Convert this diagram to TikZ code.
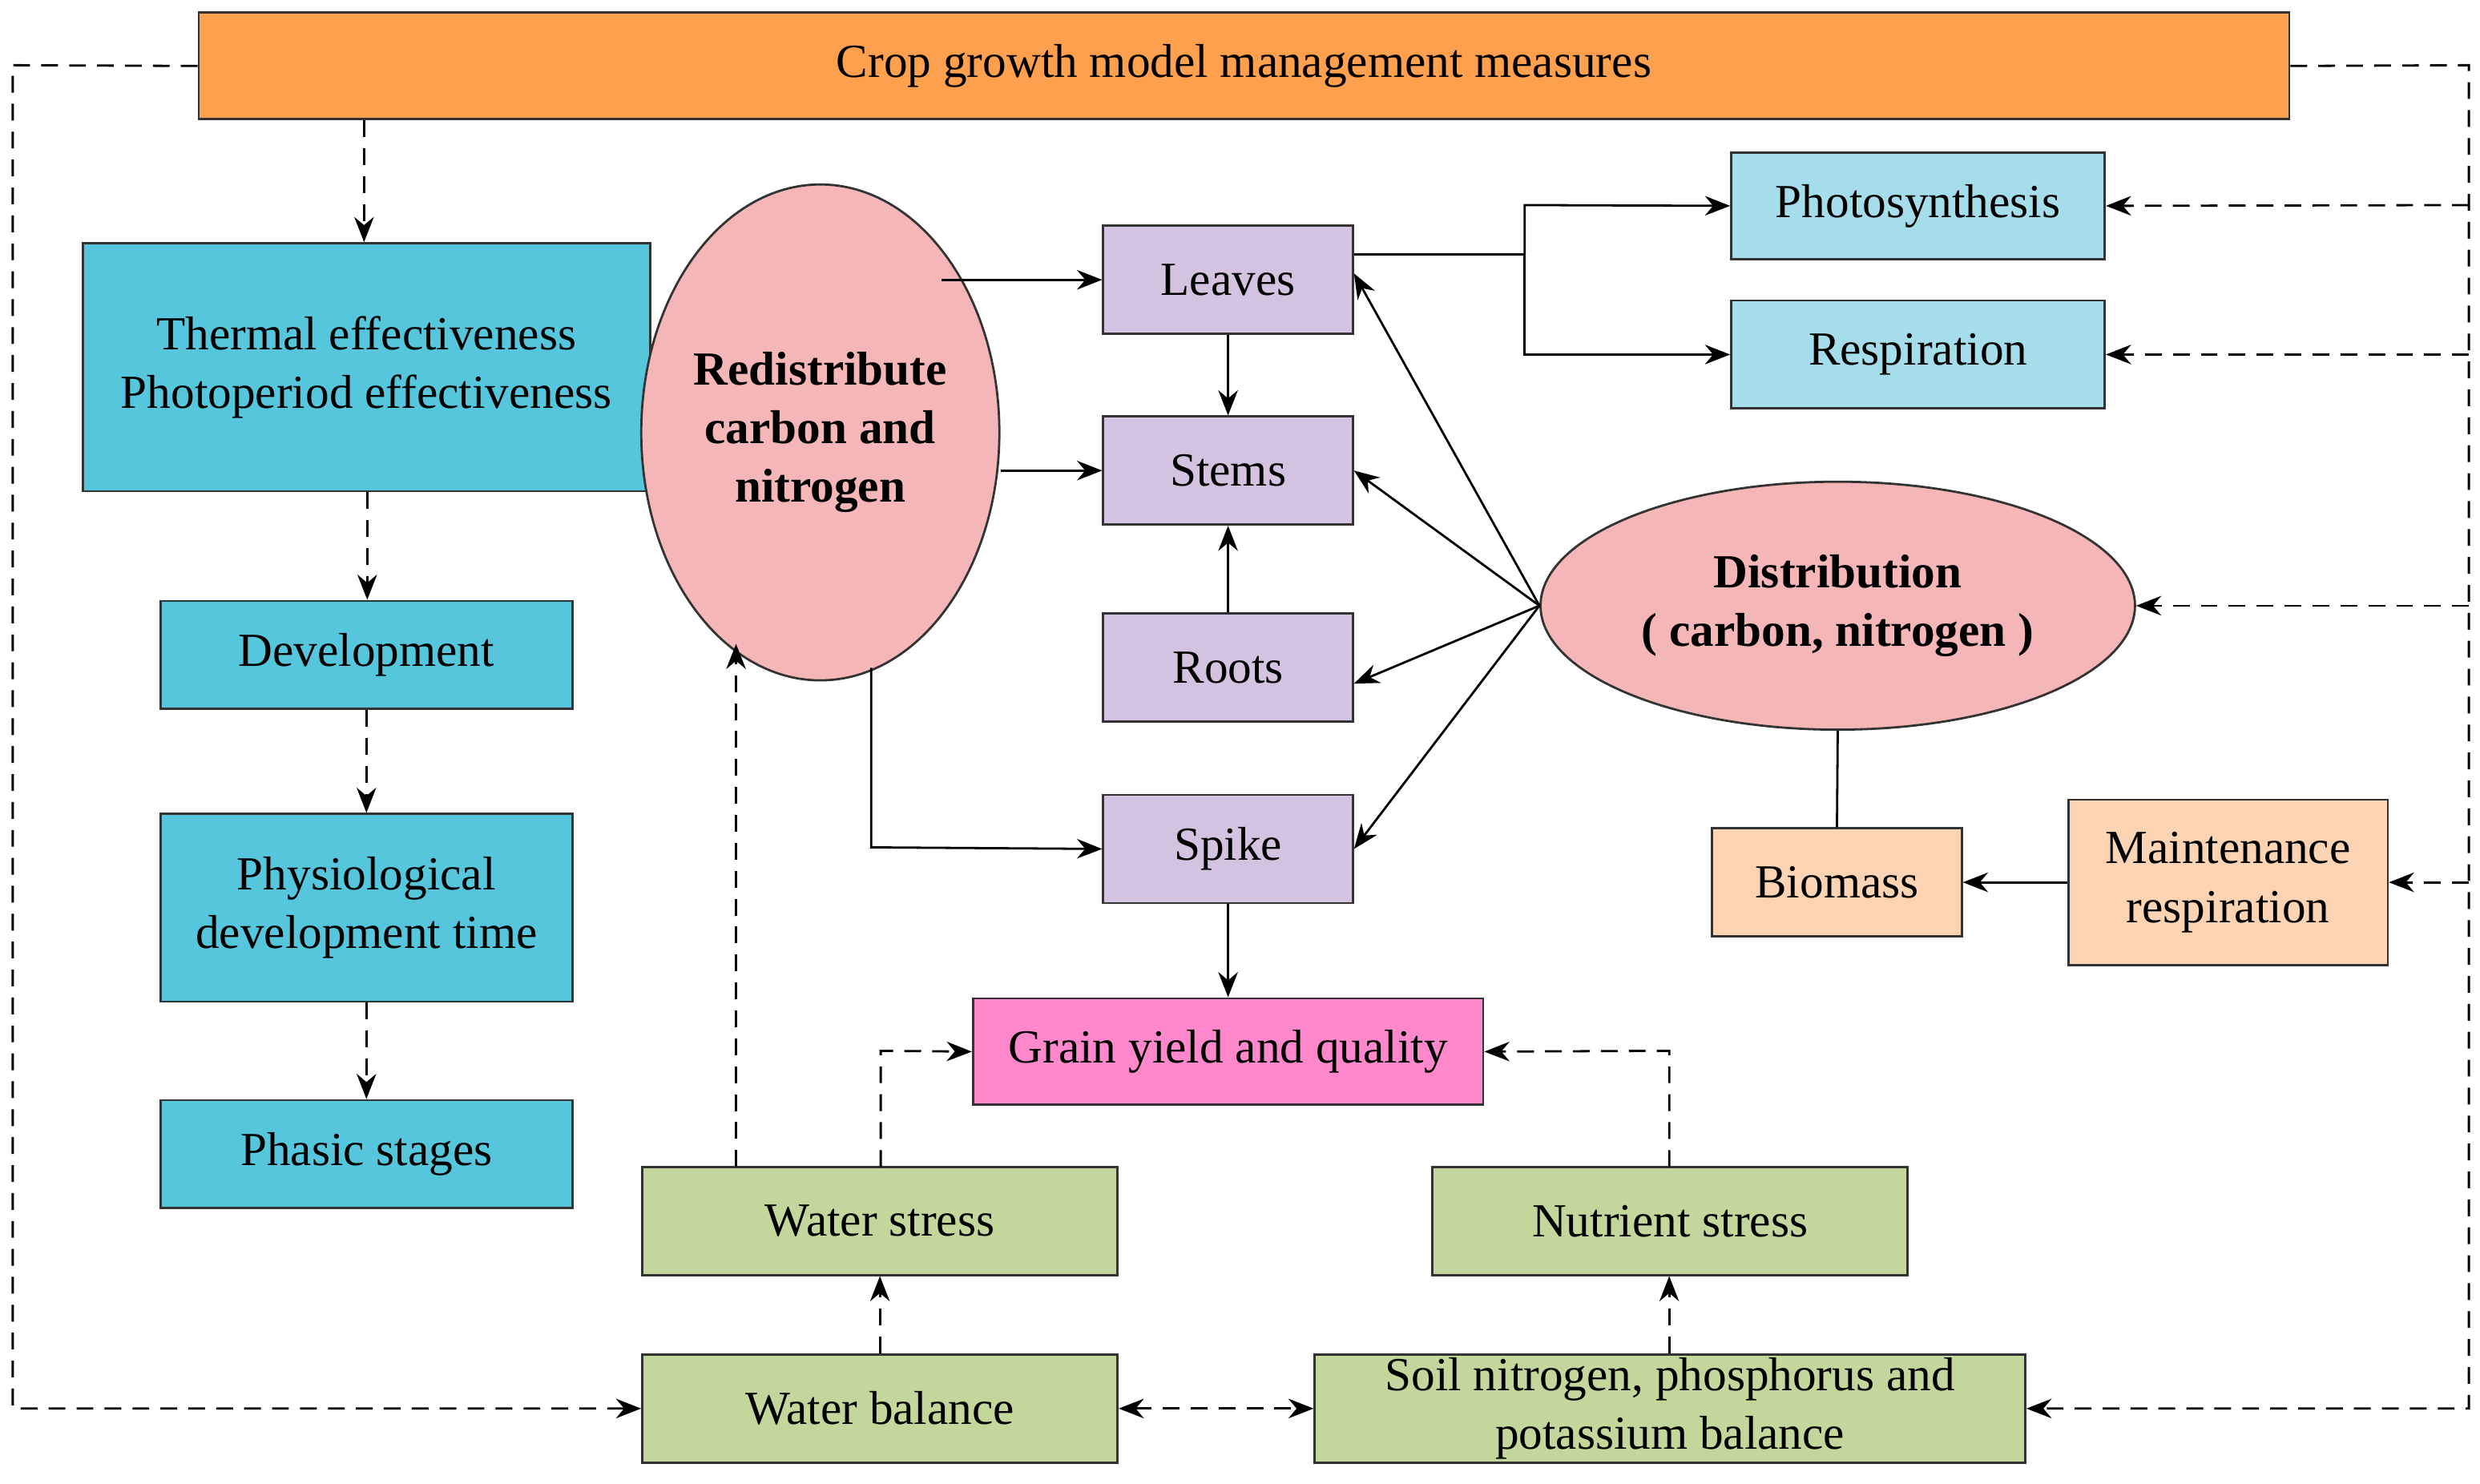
\documentclass[tikz,border=0pt]{standalone}
\usepackage{fontspec}
\setmainfont{Liberation Serif}
\usetikzlibrary{arrows.meta,shapes.geometric}
\definecolor{org}{HTML}{FFA04F}
\definecolor{cy}{HTML}{55C6DC}
\definecolor{lcy}{HTML}{A6DDEB}
\definecolor{pur}{HTML}{D3C3E0}
\definecolor{rd}{HTML}{F4B6B6}
\definecolor{pch}{HTML}{FCD4B3}
\definecolor{pk}{HTML}{FF88CC}
\definecolor{gr}{HTML}{C3D69B}
\begin{document}
\begin{tikzpicture}[x=0.02cm,y=-0.02cm,
  every node/.style={font=\fontsize{17}{21}\selectfont},
  bx/.style={draw=black!80,line width=0.8pt,align=center,inner sep=0pt},
  ar/.style={-{Stealth[length=9pt,width=7pt]},line width=0.8pt},
  da/.style={ar,dashed,dash pattern=on 6pt off 4pt}]
\useasboundingbox (0,0) rectangle (1560,933);
\newcommand{\bxn}[6]{\node[bx,fill=#2,minimum width={(#5-#3)*0.02cm},minimum height={(#6-#4)*0.02cm}] (#1) at ({(#3+#5)/2},{(#4+#6)/2}) {#2x};}
\def\B#1#2#3#4#5#6#7{\node[bx,fill=#2,minimum width={(#5-#3)*0.02cm},minimum height={(#6-#4)*0.02cm}] (#1) at ({(#3+#5)/2},{(#4+#6)/2}) {#7};}
\B{top}{org}{125}{8}{1440}{75}{Crop growth model management measures}
\B{th}{cy}{52}{153}{409}{309}{Thermal effectiveness\\Photoperiod effectiveness}
\B{dev}{cy}{101}{378}{360}{446}{Development}
\B{phy}{cy}{101}{512}{360}{630}{Physiological\\development time}
\B{pha}{cy}{101}{692}{360}{760}{Phasic stages}
\node[bx,ellipse,fill=rd,minimum width=3.8cm,minimum height=6.24cm,font=\fontsize{17}{21}\selectfont\bfseries] (red) at (516,272) {Redistribute\\carbon and\\nitrogen};
\B{lv}{pur}{694}{142}{851}{210}{Leaves}
\B{st}{pur}{694}{262}{851}{330}{Stems}
\B{rt}{pur}{694}{386}{851}{454}{Roots}
\B{sp}{pur}{694}{500}{851}{568}{Spike}
\B{ps}{lcy}{1089}{96}{1324}{163}{Photosynthesis}
\B{rs}{lcy}{1089}{189}{1324}{257}{Respiration}
\node[bx,ellipse,fill=rd,minimum width=7.48cm,minimum height=3.12cm,font=\fontsize{17}{21}\selectfont\bfseries] (dis) at (1156,381) {Distribution\\( carbon, nitrogen )};
\B{bm}{pch}{1077}{521}{1234}{589}{Biomass}
\B{mr}{pch}{1301}{503}{1502}{607}{Maintenance\\respiration}
\B{gy}{pk}{612}{628}{933}{695}{Grain yield and quality}
\B{ws}{gr}{404}{734}{703}{802}{Water stress}
\B{ns}{gr}{901}{734}{1200}{802}{Nutrient stress}
\B{wb}{gr}{404}{852}{703}{920}{Water balance}
\B{sb}{gr}{827}{852}{1274}{920}{Soil nitrogen, phosphorus and\\potassium balance}
% left column
\draw[da] (top.south -| 229,0) -- (th.north -| 229,0);
\draw[da] (th.south -| 231,0) -- (dev.north -| 231,0);
\draw[da] (dev) -- (phy);
\draw[da] (phy) -- (pha);
% loops
\coordinate (L1) at (8,41); \coordinate (L2) at (8,886);
\draw[da] (top.west) -- (L1) -- (L2) -- (wb.west);
\coordinate (R1) at (1553,41); \coordinate (R2) at (1553,886);
\draw[da] (top.east) -- (R1) -- (R2) -- (sb.east);
\draw[da] (1553,129) -- (ps.east);
\draw[da] (1553,223) -- (rs.east);
\draw[da] (1553,381) -- (dis.east);
\draw[da] (1553,555) -- (mr.east);
% redistribute
\draw[ar] (592,176) -- (lv.west |- 0,176);
\draw[ar] (red.east |- 0,296) -- (st.west |- 0,296);
\draw[ar] (548,420) -- (548,533) -- (sp.west);
\draw[ar] (lv) -- (st);
\draw[ar] (rt) -- (st);
\coordinate (j) at (959,160);
\draw[line width=0.8pt] (lv.east |- j) -- (j);
\draw[ar] (j) -- (959,129) -- (ps.west);
\draw[ar] (j) -- (959,223) -- (rs.west);
\draw[ar] (dis.west) -- (lv.east |- 0,172);
\draw[ar] (dis.west) -- (st.east);
\draw[ar] (dis.west) -- (rt.east |- 0,430);
\draw[ar] (dis.west) -- (sp.east);
\draw[line width=0.8pt] (dis.south) -- (bm.north);
\draw[ar] (mr.west |- bm.east) -- (bm.east);
\draw[ar] (sp) -- (gy.north -| sp.south);
% stresses
\draw[da] (463,734) -- (463,405);
\draw[da] (554,734) -- (554,661) -- (gy.west);
\draw[da] (1050,734) -- (1050,661) -- (gy.east);
\draw[da] (wb) -- (ws);
\draw[da] (sb.north -| 1050,0) -- (ns.south -| 1050,0);
\draw[da,{Stealth[length=9pt,width=7pt]}-{Stealth[length=9pt,width=7pt]}] (wb) -- (sb);
\end{tikzpicture}
\end{document}
